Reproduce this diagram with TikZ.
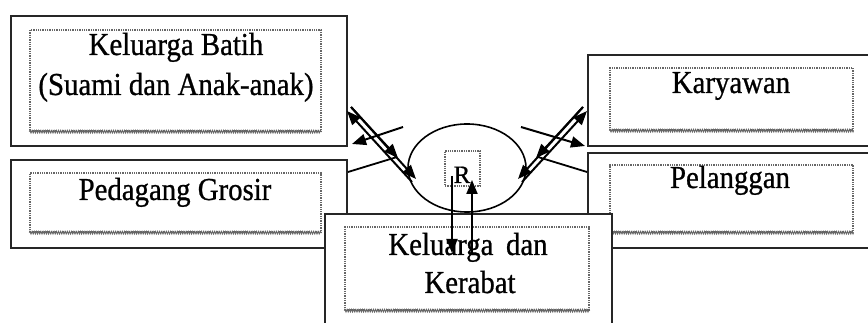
\documentclass[tikz,border=0pt]{standalone}
\usepackage{fontspec}
\setmainfont[FakeBold=0.8]{Liberation Serif}
\usetikzlibrary{arrows.meta,decorations.pathmorphing,shapes.geometric}
\newcommand{\sqz}[1]{\scalebox{0.9}[1]{#1}}
\tikzset{
  outerbox/.style={draw=black!85, line width=2pt, fill=white, rectangle, inner sep=0pt},
  innerbox/.style={draw=black!60, line width=1.3pt, densely dotted, rectangle, inner sep=0pt},
  zz/.style={draw=black!60, line width=0.9pt, decorate, decoration={zigzag, amplitude=1.3pt, segment length=2.2pt}},
  lbl/.style={font=\fontsize{32}{40}\selectfont, anchor=base, inner sep=0pt},
  conn/.style={line width=2pt, -{Triangle[length=14pt,width=11pt]}},
  plainline/.style={line width=1.8pt},
}
\begin{document}
\begin{tikzpicture}[x=1pt,y=-1pt]
\useasboundingbox (0,0) rectangle (868,323);
\clip (0,0) rectangle (868,323);
% Keluarga Batih
\node[outerbox, minimum width=336pt, minimum height=130pt] (batih) at (179,81) {};
\node[innerbox, minimum width=291pt, minimum height=101pt] (batihin) at (175.5,80.5) {};
\draw[zz] (batihin.south west) -- (batihin.south east);
\node[lbl] (batihA) at (176,55) {\sqz{Keluarga Batih}};
\node[lbl] (batihB) at (176,95) {\sqz{(Suami dan Anak-anak)}};
% Pedagang Grosir
\node[outerbox, minimum width=336pt, minimum height=88pt] (grosir) at (179,204) {};
\node[innerbox, minimum width=291pt, minimum height=59pt] (grosirin) at (175.5,202.5) {};
\draw[zz] (grosirin.south west) -- (grosirin.south east);
\node[lbl] (grosirA) at (175,200) {\sqz{Pedagang Grosir}};
% Karyawan
\node[outerbox, minimum width=292pt, minimum height=91pt] (karyawan) at (734,100.5) {};
\node[innerbox, minimum width=243pt, minimum height=62pt] (karyawanin) at (731.5,99) {};
\draw[zz] (karyawanin.south west) -- (karyawanin.south east);
\node[lbl] (karyawanA) at (731,93) {\sqz{Karyawan}};
% Pelanggan
\node[outerbox, minimum width=292pt, minimum height=95pt] (pelanggan) at (734,200.5) {};
\node[innerbox, minimum width=243pt, minimum height=67pt] (pelangganin) at (731.5,198.5) {};
\draw[zz] (pelangganin.south west) -- (pelangganin.south east);
\node[lbl] (pelangganA) at (730,188) {\sqz{Pelanggan}};
% Centre
\node[draw, line width=1.6pt, ellipse, minimum width=118pt, minimum height=88pt, inner sep=0pt] (ell) at (467,168) {};
\node[innerbox, line width=1.2pt, minimum width=35pt, minimum height=35pt] (rbox) at (462.5,168.5) {};
\node[anchor=base, inner sep=0pt, font=\fontsize{25}{28}\selectfont] (r) at (462,183) {R};
% coordinates for left connectors
\coordinate (l1s) at (412,182); \coordinate (l1e) at (347,111);
\coordinate (l2s) at (351,107); \coordinate (l2e) at (416,179); \coordinate (l2m) at (398,158);
\coordinate (lcs) at (403,127); \coordinate (lce) at (352,144);
\coordinate (lds) at (348,172); \coordinate (lde) at (397,157);
% right connectors
\coordinate (r1s) at (522,182); \coordinate (r1e) at (587,111);
\coordinate (r2s) at (583,107); \coordinate (r2e) at (518,179); \coordinate (r2m) at (536,158);
\coordinate (rcs) at (521,127); \coordinate (rce) at (585,146);
\coordinate (rds) at (538,157); \coordinate (rde) at (587,172);
\draw[conn] (l1s) -- (l1e);
\draw[conn] (l2s) -- (l2e);
\draw[conn] (l2s) -- (l2m);
\draw[conn] (lcs) -- (lce);
\draw[plainline] (lds) -- (lde);
\draw[conn] (r1s) -- (r1e);
\draw[conn] (r2s) -- (r2e);
\draw[conn] (r2s) -- (r2m);
\draw[conn] (rcs) -- (rce);
\draw[plainline] (rds) -- (rde);
% Keluarga dan Kerabat
\node[outerbox, minimum width=287pt, minimum height=126pt] (kerabat) at (468.5,277) {};
\node[innerbox, minimum width=244pt, minimum height=83pt] (kerabatin) at (467,268.5) {};
\draw[zz] (kerabatin.south west) -- (kerabatin.south east);
\node[lbl] (kerabatA) at (468,255) {\sqz{Keluarga\hspace{6pt} dan}};
\node[lbl] (kerabatB) at (470,293) {\sqz{Kerabat}};
% vertical connectors
\coordinate (v1s) at (452,176); \coordinate (v1e) at (452,253);
\coordinate (v2s) at (472,253); \coordinate (v2e) at (472,180);
\draw[conn] (v1s) -- (v1e);
\draw[conn] (v2s) -- (v2e);
\end{tikzpicture}
\end{document}
